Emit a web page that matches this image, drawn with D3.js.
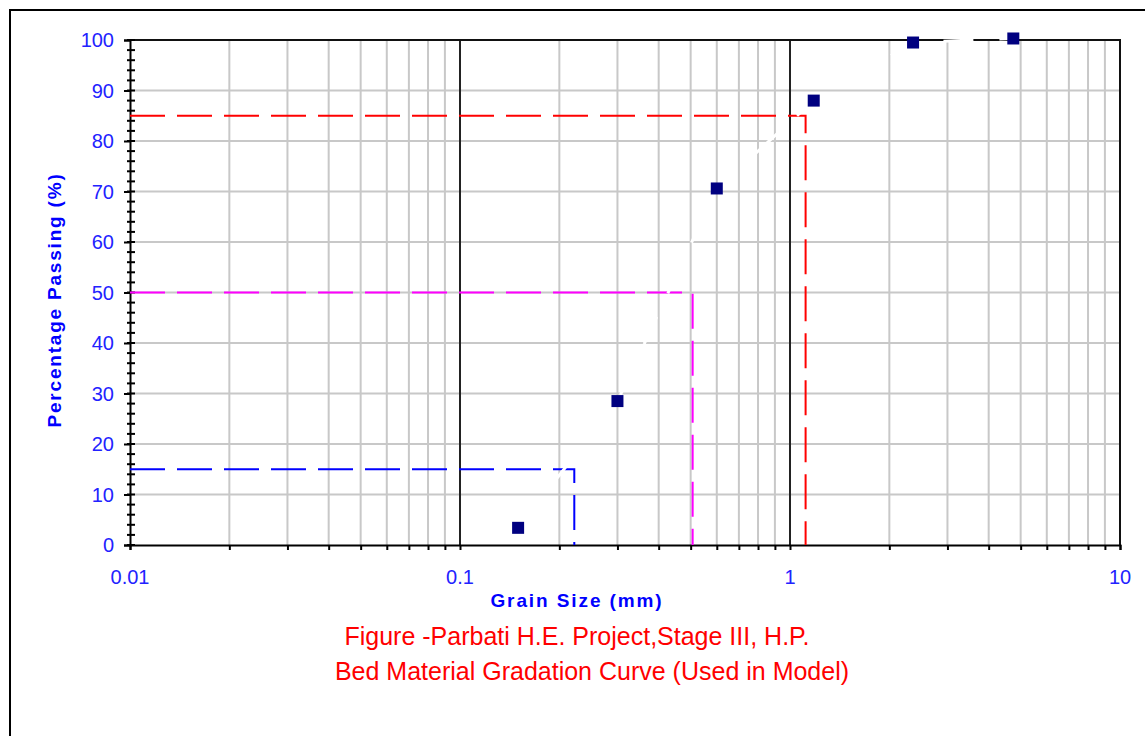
<!DOCTYPE html>
<html>
<head>
<meta charset="utf-8" />
<title>Bed Material Gradation Curve</title>
<style>
html, body {
    margin: 0;
    padding: 0;
    background: #fff;
}
svg text {
    font-family: "Liberation Sans", Arial, sans-serif;
}
</style>
</head>
<body>
<div id="chart"></div>
<script src="https://cdnjs.cloudflare.com/ajax/libs/d3/7.8.5/d3.min.js"></script>
<script>
// sieve data
var grainSize = [0.15, 0.3, 0.6, 1.18, 2.36, 4.75]
var passing = [3.4, 28.5, 70.6, 88, 99.5, 100.3]

// D15, D50, D85 guide lines
var refPct = [15, 50, 85]
var refSize = [0.222, 0.507, 1.115]
var refColor = ["#0000ff", "#ff00ff", "#ff0000"]

var xTicks = [0.01, 0.1, 1, 10]
var yTicks = [0, 10, 20, 30, 40, 50, 60, 70, 80, 90, 100]
var titleLines = ["Figure -Parbati H.E. Project,Stage III, H.P.", "Bed Material Gradation Curve (Used in Model)"]

var W = 1145, H = 736
var svg = d3.select("#chart").append("svg").attr("width", W).attr("height", H)

// outer frame (right / bottom edges fall outside the picture)
svg.append("rect").attr("x", 10).attr("y", 10).attr("width", W + 20).attr("height", H + 20)
    .attr("fill", "none").attr("stroke", "#000").attr("stroke-width", 2)

var x = d3.scaleLog().domain([0.01, 10]).range([130, 1120])
var y = d3.scaleLinear().domain([0, 100]).range([545, 40])

// all log positions 0.01 .. 10
var minorX = []
for (var dec = 0.01; dec < 10; dec *= 10) {
    for (var k = 1; k < 10; k++) minorX.push(+(dec * k).toPrecision(3))
}
minorX.push(10)

var grid = svg.append("g")
grid.selectAll(".vx").data(minorX.filter(function(d){ return xTicks.indexOf(d) < 0 }))
    .enter().append("line")
    .attr("x1", function(d){ return x(d) }).attr("x2", function(d){ return x(d) })
    .attr("y1", y(0)).attr("y2", y(100))
    .attr("stroke", "#c8c8c8").attr("stroke-width", 2)
grid.selectAll(".hy").data(yTicks.slice(1, -1))
    .enter().append("line")
    .attr("x1", x(0.01)).attr("x2", x(10))
    .attr("y1", function(d){ return y(d) }).attr("y2", function(d){ return y(d) })
    .attr("stroke", "#c8c8c8").attr("stroke-width", 2)
// decade lines in black
grid.selectAll(".dx").data([0.1, 1])
    .enter().append("line")
    .attr("x1", function(d){ return x(d) }).attr("x2", function(d){ return x(d) })
    .attr("y1", y(0)).attr("y2", y(100))
    .attr("stroke", "#222").attr("stroke-width", 2)

// plot frame
svg.append("path")
    .attr("d", "M" + x(0.01) + "," + y(100) + "H" + x(10) + "V" + y(0))
    .attr("fill", "none").attr("stroke", "#111").attr("stroke-width", 2)

// y axis with every-2 minor ticks
var yAxis = d3.axisLeft(y).tickValues(yTicks).tickSize(6).tickFormat("")
var gy = svg.append("g").attr("transform", "translate(" + x(0.01) + ",0)").call(yAxis)
gy.select(".domain").attr("stroke", "#000").attr("stroke-width", 2)
gy.selectAll(".tick line").attr("stroke", "#000").attr("stroke-width", 2)
gy.selectAll(".minor").data(d3.range(0, 101, 2))
    .enter().append("line")
    .attr("x1", -3).attr("x2", 5)
    .attr("y1", function(d){ return y(d) }).attr("y2", function(d){ return y(d) })
    .attr("stroke", "#000").attr("stroke-width", 2)

// x axis
var xAxis = d3.axisBottom(x).tickValues(minorX).tickSize(5).tickFormat("")
var gx = svg.append("g").attr("transform", "translate(0," + y(0) + ")").call(xAxis)
gx.select(".domain").attr("stroke", "#000").attr("stroke-width", 2)
gx.selectAll(".tick line").attr("stroke", "#000").attr("stroke-width", 2)

// tick labels
svg.selectAll(".ylab").data(yTicks).enter().append("text")
    .attr("x", 114).attr("y", function(d){ return y(d) + 7 })
    .attr("text-anchor", "end").attr("font-size", 20).attr("fill", "#2222ff")
    .text(function(d){ return d })
svg.selectAll(".xlab").data(xTicks).enter().append("text")
    .attr("x", function(d){ return x(d) }).attr("y", 584)
    .attr("text-anchor", "middle").attr("font-size", 20).attr("fill", "#2222ff")
    .text(function(d){ return d })

// axis titles
svg.append("text").attr("transform", "translate(61,300) rotate(-90)")
    .attr("text-anchor", "middle").attr("font-size", 19).attr("font-weight", "bold")
    .attr("letter-spacing", 1.8)
    .attr("fill", "#0000ff").text("Percentage Passing (%)")
svg.append("text").attr("x", 577).attr("y", 607)
    .attr("text-anchor", "middle").attr("font-size", 19).attr("font-weight", "bold")
    .attr("letter-spacing", 1.9)
    .attr("fill", "#0000ff").text("Grain Size (mm)")

// figure caption
svg.selectAll(".cap").data(titleLines).enter().append("text")
    .attr("x", function(d, i){ return i ? 592 : 577 }).attr("y", function(d, i){ return 645 + i * 35 })
    .attr("text-anchor", "middle").attr("font-size", 25).attr("fill", "#ff0000")
    .text(function(d){ return d })

// D15 / D50 / D85 dashed guides
svg.selectAll(".ref").data(refPct).enter().append("path")
    .attr("d", function(d, i){
        return "M" + x(0.01) + "," + y(d) + "H" + x(refSize[i]) + "V" + y(0)
    })
    .attr("fill", "none").attr("stroke", function(d, i){ return refColor[i] })
    .attr("stroke-width", 2).attr("stroke-dasharray", "35,12")

// gradation curve (white dashed, shows only over grid)
var pts = grainSize.map(function(d, i){ return [d, passing[i]] })
svg.append("path").datum(pts)
    .attr("d", d3.line().x(function(d){ return x(d[0]) }).y(function(d){ return y(d[1]) }))
    .attr("fill", "none").attr("stroke", "#fff").attr("stroke-width", 3)
    .attr("stroke-dasharray", "30,26")

svg.selectAll(".pt").data(pts).enter().append("rect")
    .attr("x", function(d){ return x(d[0]) - 6 }).attr("y", function(d){ return y(d[1]) - 6 })
    .attr("width", 12).attr("height", 12).attr("fill", "#000080")
</script>
</body>
</html>
